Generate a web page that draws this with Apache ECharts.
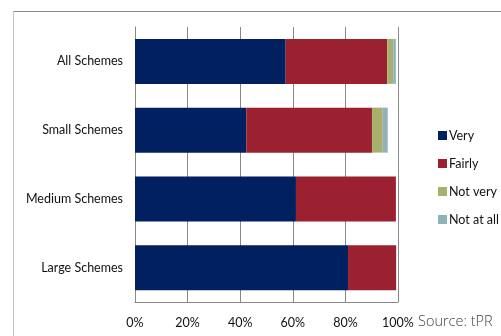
<!DOCTYPE html>
<html>
<head>
<meta charset="utf-8">
<script src="https://cdn.jsdelivr.net/npm/echarts@6/dist/echarts.min.js"></script>
<style>
  html, body { margin: 0; padding: 0; background: #fff; }
  #chart { width: 501px; height: 336px; }
</style>
</head>
<body>
<div id="chart"></div>
<script>
const categories = ["All Schemes", "Small Schemes", "Medium Schemes", "Large Schemes"];
const seriesNames = ["Very", "Fairly", "Not very", "Not at all"];
const very = [57.3, 42.3, 61.2, 81];
const fairly = [38.6, 47.8, 38, 18.3];
const notVery = [2.3, 4.1, 0, 0];
const notAtAll = [1, 1.9, 0, 0];
const colors = ["#002060", "#9b2030", "#a9b06e", "#8fb3b8"];

const chartDom = document.getElementById("chart");
const myChart = echarts.init(chartDom);

const font = "Lato, 'Open Sans', sans-serif";

myChart.setOption({
  animation: false,
  color: colors,
  grid: { left: 135, right: 103, top: 27, bottom: 34 },
  legend: {
    orient: "vertical",
    left: 433,
    top: 124,
    itemWidth: 9,
    itemHeight: 9,
    itemGap: 15,
    icon: "rect",
    textStyle: { fontFamily: font, fontSize: 12.5, color: "#111", padding: [0, 0, 0, -3] },
    data: seriesNames,
  },
  xAxis: {
    type: "value",
    min: 0,
    max: 100,
    interval: 20,
    axisLine: { show: true, lineStyle: { color: "#888" } },
    axisTick: { show: false },
    splitLine: { show: true, lineStyle: { color: "#888" } },
    axisLabel: {
      formatter: "{value}%",
      fontFamily: font,
      fontSize: 12.5,
      color: "#111",
      margin: 14,
    },
  },
  yAxis: {
    type: "category",
    inverse: true,
    data: categories,
    axisLine: { show: true, lineStyle: { color: "#888" } },
    axisTick: { show: false },
    axisLabel: { fontFamily: font, fontSize: 12.5, color: "#111", margin: 12 },
  },
  graphic: [
    {
      type: "line",
      shape: { x1: 13.5, y1: 11.5, x2: 501, y2: 11.5 },
      style: { stroke: "#888", lineWidth: 1 },
    },
    {
      type: "line",
      shape: { x1: 13.5, y1: 11.5, x2: 13.5, y2: 336 },
      style: { stroke: "#c4c4c4", lineWidth: 1 },
    },
    {
      type: "text",
      left: 418,
      top: 314,
      style: {
        text: "Source: tPR",
        fontFamily: "'Open Sans', sans-serif",
        fontWeight: 300,
        fontSize: 14.5,
        fill: "#444",
      },
    },
  ],
  series: [very, fairly, notVery, notAtAll].map((values, i) => ({
    name: seriesNames[i],
    type: "bar",
    stack: "total",
    barWidth: 45,
    data: values,
  })),
});
</script>
</body>
</html>
